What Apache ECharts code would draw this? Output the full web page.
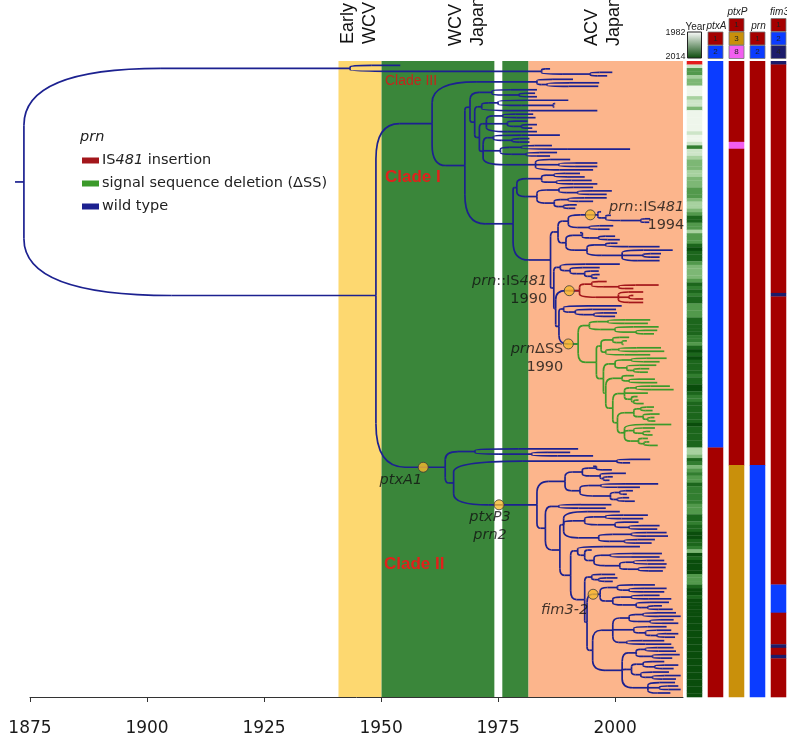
<!DOCTYPE html>
<html><head><meta charset="utf-8">
<script src="https://cdn.jsdelivr.net/npm/echarts@6/dist/echarts.min.js"></script>
<style>html,body{margin:0;padding:0;background:#fff}#c{width:787px;height:743px}</style>
</head><body><div id="c"></div><script>
// ---------------- DATA ----------------
// Dated tree: an internal node is [nodeYear, child, child, ...]; a tip is its sampling year.
const cladeIIIa = [1943.4, 1954.1, [1984.3, 1986.1, [1994.7, 1999.4, 1998.3]]];
const cladeIIIb = [1983.3, 1991.0, [1985.5, 1996.6, 1996.4]];
const cladeIearly = [1969.0,
  [1973.7, 1983.3, [1979.5, 1982.9, 1983.3]],
  [1970.0,
    [1971.5, [1975.0, 1990.0, [1986.8, 1987.2, 1987.0]], 1996.2],
    [1971.0,
      [1972.5, [1976.0, 1982.5, 1983.0], [1977.0, 1981.3, [1980.0, 1983.3, 1982.3]], 1983.3],
      [1971.8, [1974.0, 1988.2, [1978.0, 1981.7, 1981.7]], [1975.5, [1980.0, 1986.5, 2003.2], [1981.0, 1987.6, 1986.1]], [1983.0, 1990.4, [1988.0, 1996.2, 1996.2], 1995.3]]
    ]
  ]
];
const cladeImid = [1979.0,
  [1984.3, [1987.0, 1992.5, 1993.5], [1987.5, 1995.0, 1996.2]],
  [1983.3, [1988.0, 1995.3, [1992.0, 1999.3, 1998.2]], [1987.0, [1990.0, 1998.2, 1995.3], [1989.0, 1991.8, 1991.5]]]
];
const is481b = [1996.3, 1997.0, [1998.0, 1999.1, [2005.5, 2007.5, 2007.3]]];
const cladeIt1 = [1987.8,
  [1990.0, is481b, [1994.5, 1999.6, 1998.8]],
  [1989.5, [1993.0, 1992.5, [1996.5, 2000.0, 2001.0]], [1994.0, [1998.0, 2000.5, 2009.5], [2001.5, 2012.3, [2006.0, 2009.8, 2009.5], 2009.5]]]
];
const blueA = [1988.3, 2001.0, [1990.4, 1996.7, [1993.5, 1996.5, [1995.0, 1996.7, 1996.2]]]];
const redClade = [1992.4, [1995.0, 1998.2, [2000.8, 2009.3, 2003.9]], [2000.7, 2006.0, [2003.0, 2003.9, 2006.0], 2006.0]];
const blueB = [1989.0, 2001.4, [1991.5, 2000.2, [1995.5, 2000.4, 2000.0]]];
const greenClade = [1992.1,
  [1994.5, [1998.5, 2007.5, 2007.0], [2000.0, 2009.3, [2004.5, 2009.0, 2008.3]]],
  [1996.0,
    [1997.0, [1999.5, 2003.0, [2001.5, 2002.5, 2001.8]], [1998.0, [2000.8, 2009.8, 2010.5], 2007.5]],
    [1997.5,
      [2000.0, [2003.5, 2011.0, 2009.5], [2002.5, 2008.8, [2004.0, 2007.3, 2007.0]]],
      [1998.0,
        [2001.5, 2004.0, [2003.0, 2008.5, 2009.0]],
        [1999.5,
          [2002.0, [2004.5, 2011.7, 2012.5], 2007.0, [2003.5, 2004.8, [2004.0, 2005.0, 2006.1]]],
          [2000.5,
            [2004.0, [2005.5, 2008.3, 2008.0], [2006.0, 2009.5, [2007.0, 2008.4, 2008.6]]],
            [2002.0, 2012.0, [2004.0, 2008.5, [2006.0, 2007.5, 2008.0]], [2005.0, 2007.0, [2006.2, 2007.3, 2009.1]]]
          ]
        ]
      ]
    ]
  ]
];
const cladeIt2 = [1986.9, blueA, [1987.3, redClade, [1988.0, blueB, greenClade]]];
const cladeI = [1960.9, cladeIIIb, [1967.9, cladeIearly, [1978.2, cladeImid, [1986.2, cladeIt1, cladeIt2]]]];

const cladeIIp1 = [1970.1, 1992.1, [1982.2, 1990.4, 1995.3]];
const cladeIIp3a = [1989.3,
  [1993.0, [1996.0, 1995.3, 1999.3], [1996.8, 2002.3, [1997.5, 1999.5, 1998.8]]],
  [1992.5, [1997.0, 2009.2, 2005.3], [1999.0, [2001.0, 2003.8, 2002.5], [2000.5, 2003.0, 2004.2]]]
];
const cladeIIb1 = [1988.0, 1999.2, 1998.0];
const cladeIIb2top = [1989.0, 2001.0,
  [1993.5, [1998.0, 2007.0, 2006.0], [2000.0, 2005.0, [2003.0, 2009.5, 2009.0]]],
  [1996.5, [2003.5, 2011.0, 2011.3], [2002.0, 2008.5, 2007.8]]
];
const cladeIIc1 = [1993.5, 1995.0, [1995.5, [1999.0, 2010.0, 2009.5], [2001.0, [2004.0, 2010.5, 2011.0], [2005.0, 2010.8, 2010.2]]]];
const cladeIIc2 = [1995.0, 2000.0, [1996.5, 2000.5, 1999.5]];
const fim32Clade = [1996.8, [2000.5, 2008.5, [2003.0, 2011.0, 2010.5]], [1999.5, [2003.5, 2009.5, 2012.0], [2004.5, 2011.5, [2007.0, 2010.0, 2012.3]]]];
const cladeIIc4 = [1995.2,
  [1999.5, [2003.0, [2006.0, 2013.0, 2014.0], [2007.5, 2012.5, 2013.5]], [2004.0, 2011.0, [2006.5, 2012.0, [2009.0, 2013.5, 2012.8]]], [2002.5, 2010.5, 2012.0]],
  [2001.5, [2004.5, [2006.5, 2012.5, 2013.0], [2008.0, 2013.8, 2012.2]], [2003.5, [2006.0, 2010.5, [2008.5, 2013.5, 2012.5]], [2005.5, 2011.5, [2008.0, 2014.0, 2013.0]]], [2007.0, 2012.8, [2009.5, 2013.5, 2014.0], 2011.8]]
];
const cladeIIb2bot = [1990.5, [1992.0, 2005.3, cladeIIc1], [1993.5, cladeIIc2, [1994.0, fim32Clade, cladeIIc4]]];
const ptxP3Clade = [1983.3, cladeIIp3a, [1985.1, cladeIIb1, [1988.2, cladeIIb2top, cladeIIb2bot]]];
const cladeIIp2 = [1965.5, [2000.4, 2007.5, 2003.2], ptxP3Clade];
const cladeII = [1963.7, cladeIIp1, cladeIIp2];

const tree = [1873.7, cladeIIIa, [1948.9, cladeI, cladeII]];
const rootStemYear = 1871.8;

// Mutation events on branches (dot year), with label text
const mutations = [
  { node: cladeII,    year: 1959.0, text: '{i|ptxA1}' },
  { node: ptxP3Clade, year: 1975.2, text: '{i|ptxP3}\n{i|prn2}' },
  { node: is481b,     year: 1994.7, text: '{i|prn}::IS{i|481}\n1994' },
  { node: redClade,   year: 1990.2, text: '{i|prn}::IS{i|481}\n1990', series: 'IS481 insertion' },
  { node: greenClade, year: 1990.0, text: '{i|prn}ΔSS\n1990', series: 'signal sequence deletion (ΔSS)' },
  { node: fim32Clade, year: 1995.3, text: '{i|fim3-2}' }
];

// Vaccine eras (background bands)
const eraBands = [[1940.9, 1950.1, 'Early WCV'], [1950.1, 1974.2, 'WCV Japan'], [1975.9, 1981.5, 'WCV Japan'], [1981.5, 2014.5, 'ACV Japan']];
const eraLabels = ['Early\nWCV', 'WCV\nJapan', 'ACV\nJapan'];
const cladeLabels = ['Clade III', 'Clade I', 'Clade II'];
const yearTicks = [1875, 1900, 1925, 1950, 1975, 2000];
const xMax = 2014.5;

// Allele runs by tip index (top to bottom): [firstTip, lastTip, allele]
const geneColumns = ['Year', 'ptxA', 'ptxP', 'prn', 'fim3'];
const ptxA = [[0, 109, '2'], [110, 180, '1']];
const ptxP = [[0, 22, '1'], [23, 24, '8'], [25, 114, '1'], [115, 180, '3']];
const prnAllele = [[0, 114, '1'], [115, 180, '2']];
const fim3 = [[0, 0, '4'], [1, 65, '1'], [66, 66, '4'], [67, 148, '1'], [149, 156, '2'], [157, 165, '1'], [166, 166, '4'], [167, 168, '1'], [169, 169, '4'], [170, 180, '1']];
const alleleLegend = { ptxA: ['1', '2'], ptxP: ['1', '3', '8'], prn: ['1', '2'], fim3: ['1', '2', '4'] };
const yearLegend = [1982, 2014];

// ---------------- STYLE ----------------
const COL = { blue: '#1c2190', red: '#a3161b', green: '#3b9a2a' };
const seriesColor = { 'wild type': COL.blue, 'IS481 insertion': COL.red, 'signal sequence deletion (ΔSS)': COL.green };
const bandColor = { 'Early WCV': '#fdd870', 'WCV Japan': '#3a863a', 'ACV Japan': '#fcb58c' };
const alleleColor = {
  ptxA: { '1': '#a50000', '2': '#0b3cff' },
  ptxP: { '1': '#a50000', '3': '#c9900b', '8': '#f25ef0' },
  prn:  { '1': '#a50000', '2': '#0b3cff' },
  fim3: { '1': '#a50000', '2': '#0b3cff', '4': '#1c1c6b' }
};
const FONT = 'DejaVu Sans';

// ---------------- LAYOUT ----------------
const tipYears = [];
const laid = new Map();
function lay(n) {
  if (typeof n === 'number') return { x: n, y: tipYears.push(n) - 1, kids: [] };
  const kids = n.slice(1).map(lay);
  const t = { x: n[0], y: (kids[0].y + kids[kids.length - 1].y) / 2, kids, src: n };
  laid.set(n, t);
  return t;
}
const rootT = lay(tree);
const N = tipYears.length;

const branchData = { 'wild type': [], 'IS481 insertion': [], 'signal sequence deletion (ΔSS)': [] };
branchData['wild type'].push([rootStemYear, rootT.y, rootT.x, rootT.y]);
function walk(t, s) {
  for (const k of t.kids) {
    branchData[s].push([t.x, t.y, k.x, k.y]);
    let ks = s;
    const m = k.src && mutations.find(mm => mm.node === k.src && mm.series);
    if (m) { ks = m.series; branchData[ks].push([m.year, k.y, k.x, k.y]); }
    walk(k, ks);
  }
}
walk(rootT, 'wild type');

function branchRenderer(color) {
  return function (params, api) {
    const a = api.coord([api.value(0), api.value(1)]);
    const b = api.coord([api.value(2), api.value(3)]);
    const st = { stroke: color, lineWidth: 1.7, fill: 'none' };
    const dy = b[1] - a[1];
    if (Math.abs(dy) < 0.5) return { type: 'line', shape: { x1: a[0], y1: b[1], x2: b[0], y2: b[1] }, style: st };
    const dx = b[0] - a[0];
    const rh = Math.max(0, dx * 0.42);
    const rv = Math.min(Math.abs(dy) * 0.5, Math.max(rh * 1.5, 1.5));
    const ya = b[1] - Math.sign(dy) * rv;
    return { type: 'group', children: [
      { type: 'line', shape: { x1: a[0], y1: a[1], x2: a[0], y2: ya }, style: st },
      { type: 'bezierCurve', shape: { x1: a[0], y1: ya, cpx1: a[0], cpy1: b[1], x2: a[0] + rh, y2: b[1] }, style: st },
      { type: 'line', shape: { x1: a[0] + rh, y1: b[1], x2: b[0], y2: b[1] }, style: st }
    ] };
  };
}

const labelPlace = [
  { align: 'right', offset: [-1, 13] },
  { align: 'center', offset: [-9, 21] },
  { align: 'right', offset: [94, 1] },
  { align: 'right', offset: [-22, 0] },
  { align: 'right', offset: [-5, 14] },
  { align: 'right', offset: [-5, 16] }
];
const dotData = mutations.map((m, i) => ({
  value: [m.year, laid.get(m.node).y],
  label: { show: true, position: 'inside', formatter: m.text, align: labelPlace[i].align, verticalAlign: 'middle', offset: labelPlace[i].offset }
}));

const yearCells = tipYears.map((yr, i) => [0, i, i, yr]);
const alleleCells = [];
[['ptxA', ptxA], ['ptxP', ptxP], ['prn', prnAllele], ['fim3', fim3]].forEach(([gn, runs]) => {
  const ci = geneColumns.indexOf(gn);
  runs.forEach(r => alleleCells.push([ci, r[0], r[1], alleleColor[gn][r[2]]]));
});
function cellRenderer(params, api) {
  const c = api.value(0);
  const p0 = api.coord([c, api.value(1) - 0.5]);
  const p1 = api.coord([c, api.value(2) + 0.5]);
  const w = api.size([1, 0])[0] * 0.74;
  const color = params.seriesName === 'years' ? api.visual('color') : alleleCells[params.dataIndex][3];
  return { type: 'rect', shape: { x: p0[0] - w / 2, y: p0[1], width: w, height: p1[1] - p0[1] + 0.3 }, style: { fill: color } };
}

const chart = echarts.init(document.getElementById('c'));
const treeSeries = Object.keys(branchData).map(name => ({
  name, type: 'custom', xAxisIndex: 0, yAxisIndex: 0, z: 3, silent: true,
  itemStyle: { color: seriesColor[name] },
  encode: { x: [0, 2], y: [1, 3] },
  renderItem: branchRenderer(seriesColor[name]),
  data: branchData[name]
}));

chart.setOption({
  animation: false,
  grid: [
    { left: 30, top: 61, width: 653, height: 636, outerBoundsMode: 'none' },
    { left: 684, top: 61, width: 105, height: 636, outerBoundsMode: 'none' }
  ],
  xAxis: [
    { type: 'value', gridIndex: 0, min: yearTicks[0], max: xMax, interval: yearTicks[1] - yearTicks[0],
      splitLine: { show: false },
      axisLine: { show: true, onZero: false, lineStyle: { color: '#333', width: 1 } },
      axisTick: { show: true, length: 5, lineStyle: { color: '#333' } },
      axisLabel: { showMaxLabel: false, margin: 23, fontFamily: FONT, fontSize: 17, color: '#1a1a1a', formatter: v => String(v) } },
    { type: 'category', gridIndex: 1, data: geneColumns, show: false }
  ],
  yAxis: [
    { type: 'value', gridIndex: 0, inverse: true, min: -1.25, max: N - 1 + 1.15, show: false },
    { type: 'value', gridIndex: 1, inverse: true, min: -0.5, max: N - 0.5, show: false }
  ],
  visualMap: {
    type: 'piecewise', show: false, seriesIndex: 1, dimension: 3,
    pieces: [
      { lt: 1960, color: '#e41a1c' },
      { gte: 1960, lt: 1986, color: '#eef6eb' },
      { gte: 1986, lt: 1990, color: '#cde5c8' },
      { gte: 1990, lt: 1994, color: '#a7d19f' },
      { gte: 1994, lt: 1998, color: '#7db775' },
      { gte: 1998, lt: 2002, color: '#52994c' },
      { gte: 2002, lt: 2006, color: '#327e30' },
      { gte: 2006, lt: 2010, color: '#1c661c' },
      { gte: 2010, color: '#0a4d0c' }
    ]
  },
  legend: {
    data: ['IS481 insertion', 'signal sequence deletion (ΔSS)', 'wild type'],
    orient: 'vertical', left: 77, top: 148, itemWidth: 17, itemHeight: 6, itemGap: 8, icon: 'rect',
    selectedMode: false,
    formatter: n => n === 'IS481 insertion' ? 'IS{i|481} insertion' : n,
    textStyle: { fontFamily: FONT, fontSize: 14.5, color: '#222', padding: [0, 0, 0, -2],
      rich: { i: { fontStyle: 'italic', fontFamily: FONT, fontSize: 14.5, color: '#222' } } }
  },
  series: [
    { name: 'eras', type: 'custom', xAxisIndex: 0, yAxisIndex: 0, z: 1, silent: true,
      encode: { x: [0, 1] },
      data: eraBands.map(b => [b[0], b[1], b[2]]),
      renderItem: (params, api) => {
        const cs = params.coordSys;
        const x0 = api.coord([api.value(0), 0])[0], x1 = api.coord([api.value(1), 0])[0];
        return { type: 'rect', shape: { x: x0, y: cs.y, width: x1 - x0, height: cs.height }, style: { fill: bandColor[eraBands[params.dataIndex][2]] } };
      } },
    { name: 'years', type: 'custom', xAxisIndex: 1, yAxisIndex: 1, silent: true, encode: { x: 0, y: [1, 2] },
      data: yearCells, renderItem: cellRenderer },
    { name: 'alleles', type: 'custom', xAxisIndex: 1, yAxisIndex: 1, silent: true, encode: { x: 0, y: [1, 2] },
      data: alleleCells, renderItem: cellRenderer },
    ...treeSeries,
    { name: 'mutations', type: 'scatter', xAxisIndex: 0, yAxisIndex: 0, z: 5, silent: true,
      symbol: 'circle', symbolSize: 10,
      itemStyle: { color: '#f6b82d', borderColor: '#3a3a3a', borderWidth: 1 },
      label: { fontFamily: FONT, fontSize: 14.5, color: '#111', lineHeight: 18,
        rich: { i: { fontStyle: 'italic', fontFamily: FONT, fontSize: 14.5, color: '#111', lineHeight: 18 } } },
      data: dotData }
  ]
});

// ---------- header annotations ----------
const g = [];
const topFont = '18px "Liberation Sans"';
const eraAnchors = [[359.5, 44], [467, 46], [603, 46]];
eraLabels.forEach((t, i) => g.push({ type: 'text', z: 100, x: eraAnchors[i][0], y: eraAnchors[i][1], rotation: Math.PI / 2,
  style: { text: t, font: topFont, fill: '#111', align: 'left', verticalAlign: 'middle', lineHeight: 22 } }));
const cladeStyle = [
  { x: 385, y: 81, font: '14px "Liberation Sans"', fill: '#c3261c' },
  { x: 385, y: 177, font: 'bold 17px "Liberation Sans"', fill: '#e0211b' },
  { x: 384, y: 564, font: 'bold 17px "Liberation Sans"', fill: '#e0211b' }
];
cladeLabels.forEach((t, i) => g.push({ type: 'text', z: 100, x: cladeStyle[i].x, y: cladeStyle[i].y,
  style: { text: t, font: cladeStyle[i].font, fill: cladeStyle[i].fill, verticalAlign: 'middle' } }));
g.push({ type: 'text', z: 100, x: 80, y: 137, style: { text: 'prn', font: 'italic 14.5px "DejaVu Sans"', fill: '#222', verticalAlign: 'middle' } });

const colX = geneColumns.map(c => chart.convertToPixel({ xAxisIndex: 1 }, c));
const boxW = 15, boxH = 13.5;
g.push({ type: 'rect', z: 100, shape: { x: colX[0] - 7, y: 32, width: 14, height: 26 },
  style: { fill: new echarts.graphic.LinearGradient(0, 0, 0, 1, [{ offset: 0, color: '#ffffff' }, { offset: 1, color: '#0a4a0a' }]), stroke: '#222', lineWidth: 1 } });
g.push({ type: 'text', z: 100, x: colX[0] + 1, y: 27, style: { text: 'Year', font: '10px "Liberation Sans"', fill: '#222', align: 'center', verticalAlign: 'middle' } });
g.push({ type: 'text', z: 100, x: colX[0] - 9, y: 33, style: { text: String(yearLegend[0]), font: '9px "Liberation Sans"', fill: '#222', align: 'right', verticalAlign: 'middle' } });
g.push({ type: 'text', z: 100, x: colX[0] - 9, y: 57, style: { text: String(yearLegend[1]), font: '9px "Liberation Sans"', fill: '#222', align: 'right', verticalAlign: 'middle' } });
Object.keys(alleleLegend).forEach(gene => {
  const ci = geneColumns.indexOf(gene);
  const keys = alleleLegend[gene];
  const y0 = 59 - keys.length * boxH;
  keys.forEach((k, j) => {
    g.push({ type: 'rect', z: 100, shape: { x: colX[ci] - boxW / 2, y: y0 + j * boxH, width: boxW, height: boxH - 0.5 },
      style: { fill: alleleColor[gene][k], stroke: '#777', lineWidth: 0.8 } });
    g.push({ type: 'text', z: 101, x: colX[ci], y: y0 + j * boxH + boxH / 2, style: { text: k, font: '8px "Liberation Sans"', fill: '#222', align: 'center', verticalAlign: 'middle' } });
  });
  g.push({ type: 'text', z: 100, x: colX[ci] + 1, y: y0 - 6, style: { text: gene, font: 'italic 10px "Liberation Sans"', fill: '#222', align: 'center', verticalAlign: 'middle' } });
});
chart.setOption({ graphic: g });
</script></body></html>
